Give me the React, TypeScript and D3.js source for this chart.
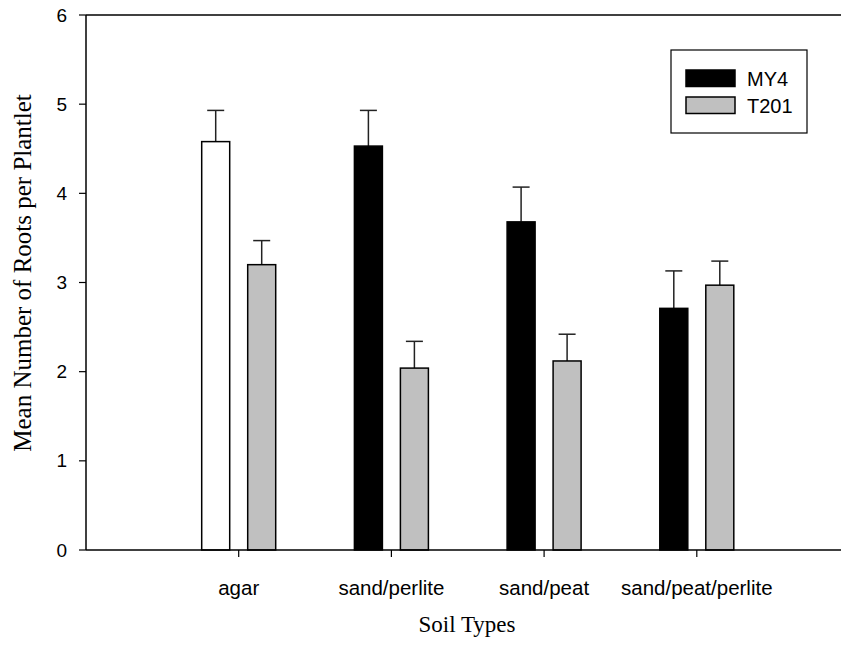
import React from "react";
import * as d3 from "d3";

// Soil types on the x axis
const categories = ["agar", "sand/perlite", "sand/peat", "sand/peat/perlite"];
// Mean number of roots per plantlet
const my4Values = [4.58, 4.53, 3.68, 2.71];
const my4Errors = [0.35, 0.40, 0.39, 0.42];
const t201Values = [3.20, 2.04, 2.12, 2.97];
const t201Errors = [0.27, 0.30, 0.30, 0.27];
const yTicks = [0, 1, 2, 3, 4, 5, 6];
const seriesNames = ["MY4", "T201"];

const W = 841;
const H = 648;
const left = 86;
const right = 841;
const top = 15;
const bottom = 550;

const sans = "'Liberation Sans', Arial, sans-serif";
const serif = "'Liberation Serif', 'Times New Roman', serif";
const grey = "#c0c0c0";

export default function App() {
  const y = d3.scaleLinear().domain([0, 6]).range([bottom, top]);
  // categories sit at positions 1..4; axis starts at 0
  const x = d3.scaleLinear().domain([0, 1]).range([left, left + 152.7]);
  const barW = 28;
  const offset = 23;

  const bars: any[] = [];
  categories.forEach((c, i) => {
    const cx = x(i + 1);
    const items = [
      { v: my4Values[i], e: my4Errors[i], fill: i === 0 ? "#ffffff" : "#000000", cx: cx - offset, k: "m" },
      { v: t201Values[i], e: t201Errors[i], fill: grey, cx: cx + offset, k: "t" },
    ];
    items.forEach((b) => {
      bars.push(
        <g key={c + b.k}>
          <line x1={b.cx} x2={b.cx} y1={y(b.v)} y2={y(b.v + b.e)} stroke="#222" strokeWidth={1.5} />
          <line x1={b.cx - 8.5} x2={b.cx + 8.5} y1={y(b.v + b.e)} y2={y(b.v + b.e)} stroke="#222" strokeWidth={1.5} />
          <rect
            x={b.cx - barW / 2}
            y={y(b.v)}
            width={barW}
            height={y(0) - y(b.v)}
            fill={b.fill}
            stroke="#000"
            strokeWidth={1.5}
          />
        </g>
      );
    });
  });

  return (
    <svg width={W} height={H} style={{ position: "absolute", left: 0, top: 0, background: "#fff" }}>
      <rect x={0} y={0} width={W} height={H} fill="#fff" />
      {/* frame */}
      <line x1={left} x2={right} y1={top} y2={top} stroke="#000" strokeWidth={1.5} />
      <line x1={left} x2={left} y1={top} y2={bottom} stroke="#000" strokeWidth={1.5} />
      {bars}
      <line x1={left} x2={right} y1={bottom} y2={bottom} stroke="#000" strokeWidth={1.5} />
      {/* y axis ticks */}
      {yTicks.map((t) => (
        <g key={"y" + t}>
          <line x1={left - 7} x2={left} y1={y(t)} y2={y(t)} stroke="#000" strokeWidth={1.2} />
          <text x={67} y={y(t)} dy="0.35em" textAnchor="end" fontFamily={sans} fontSize={19}>
            {t}
          </text>
        </g>
      ))}
      {/* x axis ticks */}
      {categories.map((c, i) => (
        <g key={"x" + c}>
          <line x1={x(i + 1)} x2={x(i + 1)} y1={bottom} y2={bottom + 7} stroke="#000" strokeWidth={1.2} />
          <text x={x(i + 1)} y={588} dy="0.35em" textAnchor="middle" fontFamily={sans} fontSize={20.5}>
            {c}
          </text>
        </g>
      ))}
      <text x={467} y={624} dy="0.35em" textAnchor="middle" fontFamily={serif} fontSize={23}>
        Soil Types
      </text>
      <text
        transform={`translate(22, 273) rotate(-90)`}
        dy="0.35em"
        textAnchor="middle"
        fontFamily={serif}
        fontSize={25}
      >
        Mean Number of Roots per Plantlet
      </text>
      {/* legend */}
      <rect x={671} y={50} width={136} height={83} fill="#fff" stroke="#000" strokeWidth={1.2} />
      {seriesNames.map((s, i) => (
        <g key={s}>
          <rect
            x={686}
            y={70 + i * 27}
            width={49}
            height={16.5}
            fill={i === 0 ? "#000" : grey}
            stroke="#000"
            strokeWidth={1.5}
          />
          <text x={747} y={86 + i * 27} fontFamily={sans} fontSize={20}>
            {s}
          </text>
        </g>
      ))}
    </svg>
  );
}
